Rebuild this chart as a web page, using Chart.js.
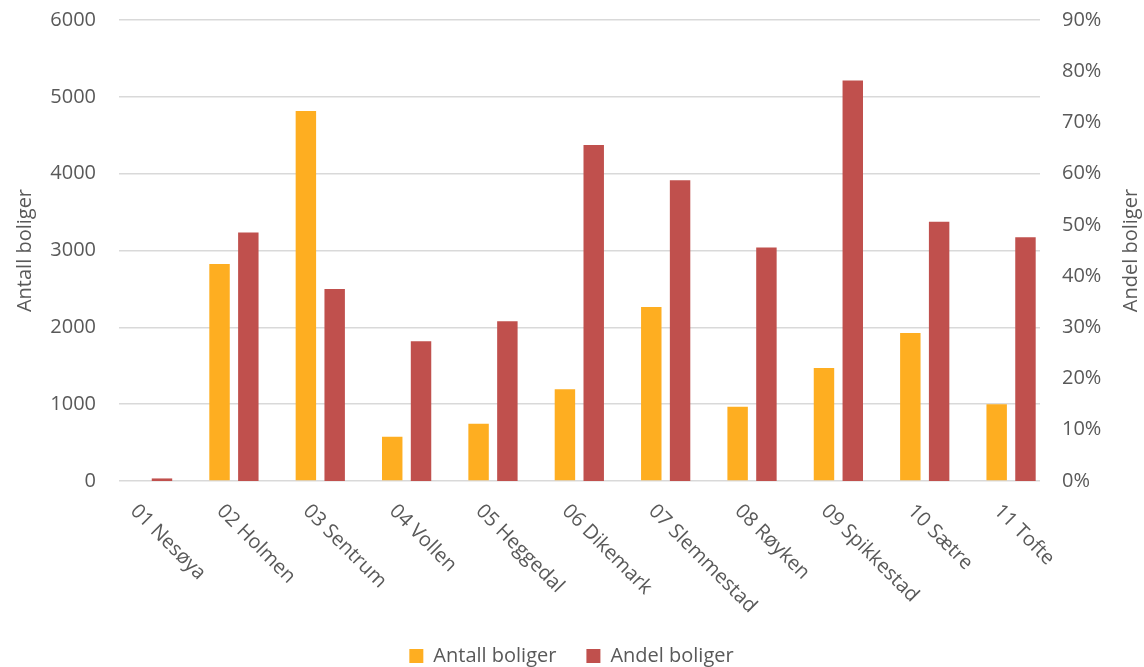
<!DOCTYPE html>
<html>
<head>
<meta charset="utf-8">
<script src="https://cdn.jsdelivr.net/npm/chart.js@4.4.1/dist/chart.umd.min.js"></script>
<style>
  html, body { margin: 0; padding: 0; background: #fff; }
  #chart { display: block; }
</style>
</head>
<body>
<canvas id="chart" width="1144" height="667"></canvas>
<script>
// categories (grunnkretser)
const areas = ['01 Nesøya', '02 Holmen', '03 Sentrum', '04 Vollen', '05 Heggedal', '06 Dikemark',
    '07 Slemmestad', '08 Røyken', '09 Spikkestad', '10 Sætre', '11 Tofte'];

// number of dwellings (left axis)
const antallBoliger = [0, 2825, 4815, 575, 745, 1195, 2265, 965, 1470, 1925, 1000];

// share of dwellings (right axis, fraction)
const andelBoliger = [0.005, 0.485, 0.375, 0.273, 0.312, 0.656, 0.587, 0.456, 0.782, 0.506, 0.476];

const leftTicks = [0, 1000, 2000, 3000, 4000, 5000, 6000];
const rightTicks = [0, 0.1, 0.2, 0.3, 0.4, 0.5, 0.6, 0.7, 0.8, 0.9];

const textColor = '#595959';
const fontFamily = '"Open Sans", "Noto Sans", sans-serif';

// x labels are rotated clockwise in the original, chart.js only rotates the other way
const areaLabels = {
    id: 'areaLabels',
    afterDraw(chart) {
        const ctx = chart.ctx;
        const xs = chart.scales.x;
        ctx.save();
        ctx.fillStyle = textColor;
        ctx.font = '20px ' + fontFamily;
        ctx.textAlign = 'left';
        ctx.textBaseline = 'middle';
        areas.forEach((name, i) => {
            ctx.save();
            ctx.translate(xs.getPixelForValue(i) - 14, chart.chartArea.bottom + 27);
            ctx.rotate(Math.PI / 4);
            ctx.fillText(name, 0, 0);
            ctx.restore();
        });
        // right axis title reads bottom-to-top like the left one
        const yr = chart.scales.y2;
        ctx.textAlign = 'center';
        ctx.translate(1131, (yr.top + yr.bottom) / 2);
        ctx.rotate(-Math.PI / 2);
        ctx.fillText('Andel boliger', 0, 0);
        ctx.restore();
    }
};

// fixed axis widths, and no extra room above/below for the end labels
function fitY(width) {
    return (s) => {
        s.width = width;
        s.paddingTop = 0;
        s.paddingBottom = 0;
    };
}

const ctx = document.getElementById('chart').getContext('2d');
new Chart(ctx, {
    type: 'bar',
    data: {
        datasets: [
            {
                label: 'Antall boliger',
                data: antallBoliger.map((v, i) => ({ x: i, y: v })),
                backgroundColor: '#FEAE21',
                yAxisID: 'y',
                categoryPercentage: 0.667,
                barPercentage: 0.71
            },
            {
                label: 'Andel boliger',
                data: andelBoliger.map((v, i) => ({ x: i, y: v })),
                backgroundColor: '#C0504D',
                yAxisID: 'y2',
                categoryPercentage: 0.667,
                barPercentage: 0.71
            }
        ]
    },
    options: {
        responsive: false,
        animation: false,
        layout: { padding: { top: 20, left: 0, right: 1, bottom: -9 } },
        plugins: {
            legend: {
                position: 'bottom',
                labels: {
                    color: textColor,
                    font: { family: fontFamily, size: 20 },
                    boxWidth: 14,
                    boxHeight: 14,
                    padding: 30
                }
            },
            tooltip: { enabled: false }
        },
        scales: {
            x: {
                type: 'linear',
                offset: false,
                min: -0.331,
                max: 10.335,
                grid: { display: false },
                border: { display: false },
                ticks: { display: false, stepSize: 1 },
                afterFit: (s) => { s.height = 135; }
            },
            y: {
                position: 'left',
                min: leftTicks[0],
                max: leftTicks[leftTicks.length - 1],
                afterBuildTicks: (s) => { s.ticks = leftTicks.map(v => ({ value: v })); },
                grid: { color: '#D9D9D9', lineWidth: 1.5, drawTicks: false },
                border: { display: false },
                ticks: {
                    color: textColor,
                    font: { family: fontFamily, size: 20 },
                    padding: 23,
                    callback: (v) => String(v)
                },
                title: {
                    display: true,
                    text: 'Antall boliger',
                    color: textColor,
                    font: { family: fontFamily, size: 20 },
                    padding: { top: 13, bottom: 0 }
                },
                afterFit: fitY(119)
            },
            y2: {
                position: 'right',
                min: rightTicks[0],
                max: rightTicks[rightTicks.length - 1],
                afterBuildTicks: (s) => { s.ticks = rightTicks.map(v => ({ value: v })); },
                grid: { display: false, drawTicks: false },
                border: { display: false },
                ticks: {
                    color: textColor,
                    font: { family: fontFamily, size: 20 },
                    padding: 22,
                    callback: (v) => Math.round(v * 100) + '%'
                },
                afterFit: fitY(103)
            }
        }
    },
    plugins: [areaLabels]
});
</script>
</body>
</html>
